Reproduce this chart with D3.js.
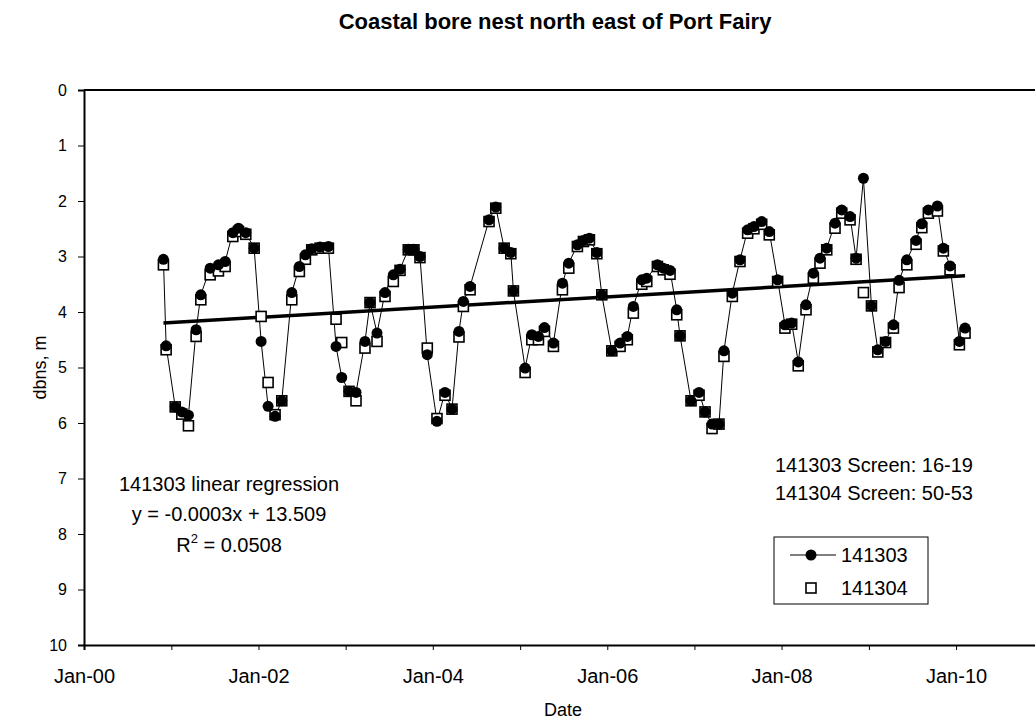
<!DOCTYPE html>
<html>
<head>
<meta charset="utf-8">
<script src="https://cdn.jsdelivr.net/npm/d3@7"></script>
<style>
  body { margin: 0; background: #fff; }
  text { font-family: "Liberation Sans", Arial, sans-serif; fill: #000; }
</style>
</head>
<body>
<div id="chart"></div>
<script>
// sample times as decimal years
const sample_year = [
  2000.909, 2000.940, 2001.044, 2001.120, 2001.196, 2001.284, 2001.338, 2001.445, 2001.540, 2001.617,
  2001.705, 2001.770, 2001.854, 2001.950, 2002.030, 2002.110, 2002.190, 2002.267, 2002.382, 2002.469,
  2002.538, 2002.611, 2002.706, 2002.802, 2002.890, 2002.955, 2003.039, 2003.119, 2003.222, 2003.280,
  2003.360, 2003.452, 2003.547, 2003.624, 2003.719, 2003.784, 2003.853, 2003.937, 2004.048, 2004.140,
  2004.220, 2004.300, 2004.350, 2004.427, 2004.644, 2004.721, 2004.817, 2004.893, 2004.923, 2005.057,
  2005.134, 2005.210, 2005.279, 2005.382, 2005.485, 2005.558, 2005.657, 2005.726, 2005.795, 2005.880,
  2005.937, 2006.052, 2006.147, 2006.230, 2006.299, 2006.396, 2006.453, 2006.575, 2006.643, 2006.720,
  2006.797, 2006.835, 2006.961, 2007.053, 2007.122, 2007.202, 2007.282, 2007.339, 2007.435, 2007.523,
  2007.611, 2007.683, 2007.772, 2007.859, 2007.955, 2008.039, 2008.116, 2008.191, 2008.280, 2008.364,
  2008.440, 2008.517, 2008.612, 2008.689, 2008.784, 2008.853, 2008.937, 2009.029, 2009.102, 2009.191,
  2009.281, 2009.346, 2009.435, 2009.541, 2009.607, 2009.682, 2009.786, 2009.854, 2009.931, 2010.038,
  2010.103
];
// depth below natural surface (m)
const bore_141303 = [
  3.05, 4.61, 5.71, 5.80, 5.86, 4.32, 3.69, 3.21, 3.15, 3.09,
  2.57, 2.49, 2.57, 2.85, 4.53, 5.70, 5.88, 5.60, 3.65, 3.18,
  2.97, 2.86, 2.83, 2.82, 4.62, 5.18, 5.43, 5.45, 4.53, 3.83,
  4.38, 3.65, 3.33, 3.23, 2.87, 2.87, 3.00, 4.77, 5.97, 5.45,
  5.75, 4.35, 3.81, 3.54, 2.34, 2.11, 2.85, 2.93, 3.62, 5.01,
  4.41, 4.44, 4.28, 4.56, 3.48, 3.12, 2.79, 2.71, 2.67, 2.93,
  3.69, 4.70, 4.56, 4.44, 3.90, 3.42, 3.39, 3.15, 3.21, 3.25,
  3.96, 4.43, 5.60, 5.45, 5.80, 6.02, 6.02, 4.70, 3.66, 3.06,
  2.52, 2.46, 2.37, 2.55, 3.42, 4.23, 4.20, 4.90, 3.87, 3.30,
  3.03, 2.85, 2.40, 2.16, 2.28, 3.03, 1.59, 3.89, 4.68, 4.53,
  4.23, 3.43, 3.06, 2.71, 2.41, 2.16, 2.09, 2.85, 3.17, 4.53,
  4.29
];
const bore_141304 = [
  3.15, 4.68, 5.71, 5.84, 6.05, 4.44, 3.78, 3.33, 3.26, 3.18,
  2.64, 2.55, 2.60, 2.85, 4.08, 5.27, 5.85, 5.60, 3.78, 3.27,
  3.05, 2.88, 2.85, 2.85, 4.13, 4.55, 5.43, 5.60, 4.65, 3.83,
  4.53, 3.72, 3.45, 3.25, 2.88, 2.88, 3.02, 4.65, 5.92, 5.50,
  5.75, 4.45, 3.90, 3.60, 2.37, 2.13, 2.85, 2.95, 3.62, 5.09,
  4.50, 4.50, 4.35, 4.62, 3.60, 3.21, 2.82, 2.73, 2.70, 2.95,
  3.69, 4.70, 4.62, 4.50, 4.02, 3.50, 3.45, 3.18, 3.24, 3.32,
  4.05, 4.43, 5.60, 5.50, 5.80, 6.10, 6.02, 4.80, 3.72, 3.09,
  2.58, 2.50, 2.42, 2.61, 3.45, 4.29, 4.22, 4.97, 3.96, 3.39,
  3.12, 2.88, 2.49, 2.22, 2.34, 3.05, 3.65, 3.89, 4.72, 4.55,
  4.29, 3.56, 3.15, 2.78, 2.48, 2.22, 2.18, 2.90, 3.24, 4.59,
  4.38
];
const series_names = ["141303", "141304"];
const y_ticks = [0, 1, 2, 3, 4, 5, 6, 7, 8, 9, 10];
const x_tick_labels = ["Jan-00", "Jan-02", "Jan-04", "Jan-06", "Jan-08", "Jan-10"];
const regression_lines = ["141303 linear regression", "y = -0.0003x + 13.509"];
const r_squared = "0.0508";
const screen_lines = ["141303 Screen: 16-19", "141304 Screen: 50-53"];

const width = 1035, height = 724;
const plot_left = 84, plot_top = 90, plot_bottom = 645;

function year_to_date(t) {
    var yr = Math.floor(t);
    var a = new Date(yr, 0, 1), b = new Date(yr + 1, 0, 1);
    return new Date(+a + (t - yr) * (b - a));
}

var svg = d3.select("#chart").append("svg")
    .attr("width", width)
    .attr("height", height);

var x = d3.scaleTime()
    .domain([new Date(2000, 0, 1), new Date(2011, 0, 1)])
    .range([plot_left, plot_left + 11 * 87.2]);
var y = d3.scaleLinear()
    .domain([0, 10])
    .range([plot_top, plot_bottom]);

// title
svg.append("text")
    .attr("x", 555).attr("y", 29)
    .attr("text-anchor", "middle")
    .style("font-size", "22px").style("font-weight", "bold")
    .text("Coastal bore nest north east of Port Fairy");

// top border of plot area
svg.append("line")
    .attr("x1", plot_left).attr("x2", x.range()[1])
    .attr("y1", plot_top).attr("y2", plot_top)
    .attr("stroke", "#000").attr("stroke-width", 2);

// x axis, minor ticks every year, labels every second year
var major_dates = x_tick_labels.map((d, i) => new Date(2000 + 2 * i, 0, 1));
var x_axis = svg.append("g")
    .attr("transform", "translate(0," + plot_bottom + ")")
    .call(d3.axisBottom(x).tickValues(d3.range(2000, 2011).map(v => new Date(v, 0, 1)))
        .tickSize(5).tickFormat(""));
x_axis.select(".domain").attr("stroke-width", 2);
var x_labels = svg.append("g")
    .attr("transform", "translate(0," + plot_bottom + ")")
    .call(d3.axisBottom(x).tickValues(major_dates).tickSize(0).tickPadding(0)
        .tickFormat((d, i) => x_tick_labels[i]));
x_labels.select(".domain").remove();
x_labels.selectAll("text").attr("dy", null).attr("y", 38).style("font-size", "20px");

// y axis
var y_axis = svg.append("g")
    .attr("transform", "translate(" + plot_left + ",0)")
    .call(d3.axisLeft(y).tickValues(y_ticks).tickSize(6).tickPadding(11));
y_axis.select(".domain").attr("stroke-width", 2);
y_axis.selectAll("text").style("font-size", "16px");

// axis titles
svg.append("text")
    .attr("x", 563).attr("y", 716)
    .attr("text-anchor", "middle")
    .style("font-size", "18px")
    .text("Date");
svg.append("text")
    .attr("transform", "translate(46," + (plot_top + plot_bottom) / 2 + ") rotate(-90)")
    .attr("text-anchor", "middle")
    .style("font-size", "18px")
    .text("dbns, m");

var points = sample_year.map((t, i) => ({
    date: year_to_date(t), t: t, a: bore_141303[i], b: bore_141304[i]
}));

// line for 141303
var line = d3.line().x(d => x(d.date)).y(d => y(d.a));
svg.append("path")
    .datum(points)
    .attr("d", line)
    .attr("fill", "none")
    .attr("stroke", "#000")
    .attr("stroke-width", 1);

// least squares trend of 141303
var mx = d3.mean(points, d => d.t), my = d3.mean(points, d => d.a);
var slope = d3.sum(points, d => (d.t - mx) * (d.a - my)) / d3.sum(points, d => (d.t - mx) * (d.t - mx));
var t_ends = d3.extent(sample_year);
svg.append("line")
    .attr("x1", x(year_to_date(t_ends[0]))).attr("y1", y(my + slope * (t_ends[0] - mx)))
    .attr("x2", x(year_to_date(t_ends[1]))).attr("y2", y(my + slope * (t_ends[1] - mx)))
    .attr("stroke", "#000").attr("stroke-width", 3.5);

// 141304 squares
var sq = 10;
svg.selectAll(".sq").data(points).enter().append("rect")
    .attr("class", "sq")
    .attr("x", d => x(d.date) - sq / 2).attr("y", d => y(d.b) - sq / 2)
    .attr("width", sq).attr("height", sq)
    .attr("fill", "#fff").attr("stroke", "#000").attr("stroke-width", 1.6);

// 141303 circles
svg.selectAll(".dot").data(points).enter().append("circle")
    .attr("class", "dot")
    .attr("cx", d => x(d.date)).attr("cy", d => y(d.a))
    .attr("r", 5.5).attr("fill", "#000");

// regression annotation
var reg = svg.append("g").style("font-size", "20px").attr("text-anchor", "middle");
regression_lines.forEach((s, i) => {
    reg.append("text").attr("x", 229).attr("y", 491 + i * 30).text(s);
});
var r2 = reg.append("text").attr("x", 229).attr("y", 552);
r2.append("tspan").text("R");
r2.append("tspan").attr("dy", -9).style("font-size", "13px").text("2");
r2.append("tspan").attr("dy", 9).text(" = " + r_squared);

// screen intervals
screen_lines.forEach((s, i) => {
    svg.append("text").attr("x", 775).attr("y", 472 + i * 28)
        .style("font-size", "20px").text(s);
});

// legend
var lg = svg.append("g").attr("transform", "translate(774,537)");
lg.append("rect").attr("width", 154).attr("height", 67)
    .attr("fill", "#fff").attr("stroke", "#000").attr("stroke-width", 1);
lg.append("line").attr("x1", 16).attr("x2", 62).attr("y1", 18).attr("y2", 18)
    .attr("stroke", "#000").attr("stroke-width", 1);
lg.append("circle").attr("cx", 37).attr("cy", 18).attr("r", 5.5).attr("fill", "#000");
lg.append("rect").attr("x", 32).attr("y", 46).attr("width", sq).attr("height", sq)
    .attr("fill", "#fff").attr("stroke", "#000").attr("stroke-width", 1.6);
series_names.forEach((s, i) => {
    lg.append("text").attr("x", 67).attr("y", 25 + i * 33)
        .style("font-size", "20px").text(s);
});
</script>
</body>
</html>
